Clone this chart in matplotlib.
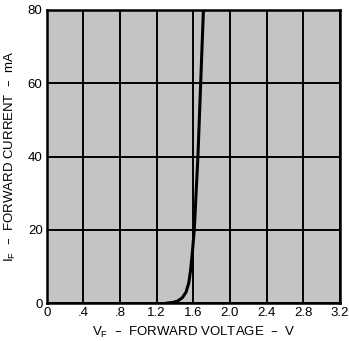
import matplotlib
matplotlib.use("Agg")
import matplotlib.pyplot as plt
import numpy as np

# Forward voltage (V) vs forward current (mA)
vf = [1.30, 1.38, 1.43, 1.48, 1.52, 1.55, 1.57, 1.59, 1.61, 1.63, 1.65, 1.68, 1.71]
i_f = [0.0, 0.2, 0.6, 1.5, 3.0, 5.5, 9.0, 14.0, 20.0, 30.0, 40.0, 60.0, 80.0]

xticks = [0, 0.4, 0.8, 1.2, 1.6, 2.0, 2.4, 2.8, 3.2]
xticklabels = ["0", ".4", ".8", "1.2", "1.6", "2.0", "2.4", "2.8", "3.2"]
yticks = [0, 20, 40, 60, 80]
yticklabels = ["0", "20", "40", "60", "80"]

plt.rcParams['font.family'] = ['Liberation Sans', 'DejaVu Sans']

fig = plt.figure(figsize=(3.49, 3.41), dpi=100)
ax = fig.add_axes([0.134, 0.111, 0.840, 0.860])
ax.set_facecolor('#c4c4c4')

ax.plot(vf, i_f, color='black', lw=2.2, solid_capstyle='butt', zorder=3)

ax.set_xlim(0, 3.2)
ax.set_ylim(0, 80)
ax.set_xticks(xticks)
ax.set_xticklabels(xticklabels)
ax.set_yticks(yticks)
ax.set_yticklabels(yticklabels)
ax.tick_params(length=0, labelsize=9.5, pad=3)
ax.grid(True, color='black', lw=1.4)
ax.set_axisbelow(True)
for s in ax.spines.values():
    s.set_linewidth(1.8)

ax.set_xlabel(r"V$_\mathregular{F}$  –  FORWARD VOLTAGE  –  V", fontsize=9.5, labelpad=4)
ax.set_ylabel(r"I$_\mathregular{F}$  –  FORWARD CURRENT  –  mA", fontsize=9.5, labelpad=7)

fig.savefig("out.png", dpi=100)
